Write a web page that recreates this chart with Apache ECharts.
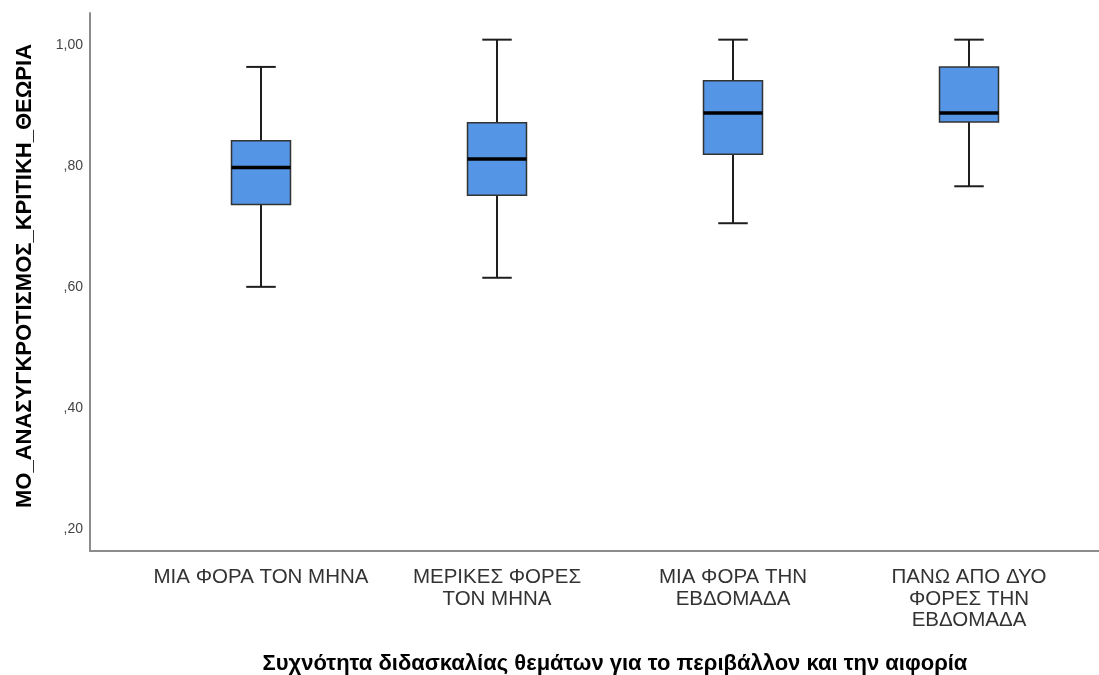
<!DOCTYPE html>
<html>
<head>
<meta charset="utf-8">
<script src="https://cdn.jsdelivr.net/npm/echarts@6/dist/echarts.min.js"></script>
<style>
html,body{margin:0;padding:0;background:#fff;}
#chart{width:1099px;height:675px;}
</style>
</head>
<body>
<div id="chart"></div>
<script>
// Categories (x axis)
const categories = [
  'ΜΙΑ ΦΟΡΑ ΤΟΝ ΜΗΝΑ',
  'ΜΕΡΙΚΕΣ ΦΟΡΕΣ\nΤΟΝ ΜΗΝΑ',
  'ΜΙΑ ΦΟΡΑ ΤΗΝ\nΕΒΔΟΜΑΔΑ',
  'ΠΑΝΩ ΑΠΟ ΔΥΟ\nΦΟΡΕΣ ΤΗΝ\nΕΒΔΟΜΑΔΑ'
];
// Five-number summaries per category
const whiskerLow  = [0.592, 0.607, 0.697, 0.758];
const quartile1   = [0.728, 0.743, 0.811, 0.864];
const medians     = [0.789, 0.803, 0.879, 0.879];
const quartile3   = [0.833, 0.863, 0.932, 0.955];
const whiskerHigh = [0.955, 1.000, 1.000, 1.000];

const yTitle = 'ΜΟ_ΑΝΑΣΥΓΚΡΟΤΙΣΜΟΣ_ΚΡΙΤΙΚΗ_ΘΕΩΡΙΑ';
const xTitle = 'Συχνότητα διδασκαλίας θεμάτων για το περιβάλλον και την αιφορία';

const yMin = 0.156, yMax = 1.044;

const boxData = categories.map((c, i) => [i, whiskerLow[i], quartile1[i], medians[i], quartile3[i], whiskerHigh[i]]);

function renderBox(params, api) {
  const idx = api.value(0);
  const band = api.size([1, 0])[0];
  const bw = band * 0.25;
  const cw = band * 0.125;
  const pLow = api.coord([idx, api.value(1)]);
  const pQ1 = api.coord([idx, api.value(2)]);
  const pMed = api.coord([idx, api.value(3)]);
  const pQ3 = api.coord([idx, api.value(4)]);
  const pHigh = api.coord([idx, api.value(5)]);
  const x = pQ1[0];
  const lineStyle = { stroke: '#1e1e1e', lineWidth: 2 };
  return {
    type: 'group',
    children: [
      { type: 'line', shape: { x1: x, y1: pHigh[1], x2: x, y2: pQ3[1] }, style: lineStyle },
      { type: 'line', shape: { x1: x, y1: pQ1[1], x2: x, y2: pLow[1] }, style: lineStyle },
      { type: 'line', shape: { x1: x - cw / 2, y1: pHigh[1], x2: x + cw / 2, y2: pHigh[1] }, style: lineStyle },
      { type: 'line', shape: { x1: x - cw / 2, y1: pLow[1], x2: x + cw / 2, y2: pLow[1] }, style: lineStyle },
      { type: 'rect', shape: { x: x - bw / 2, y: pQ3[1], width: bw, height: pQ1[1] - pQ3[1] },
        style: { fill: '#5595E5', stroke: '#333', lineWidth: 1.5 } },
      { type: 'line', shape: { x1: x - bw / 2, y1: pMed[1], x2: x + bw / 2, y2: pMed[1] },
        style: { stroke: '#000', lineWidth: 3.5 } }
    ]
  };
}

const chart = echarts.init(document.getElementById('chart'), null, { renderer: 'canvas' });
chart.setOption({
  animation: false,
  backgroundColor: '#fff',
  grid: [
    { left: 90, right: 0, top: 13, bottom: 124, containLabel: false, outerBoundsMode: 'none' },
    { left: 143, right: 12, top: 13, bottom: 124, containLabel: false, outerBoundsMode: 'none' }
  ],
  xAxis: [
    {
      gridIndex: 0, type: 'value', min: 0, max: 1,
      axisLine: { show: true, lineStyle: { color: '#8c8c8c', width: 2 } },
      axisTick: { show: false }, axisLabel: { show: false }, splitLine: { show: false }
    },
    {
      gridIndex: 1, type: 'category', data: categories,
      axisLine: { show: false }, axisTick: { show: false }, splitLine: { show: false },
      axisLabel: {
        interval: 0, margin: 16, fontSize: 20.5, lineHeight: 21.5,
        fontFamily: 'Liberation Sans, Arial, sans-serif', color: '#333'
      },
      name: xTitle, nameLocation: 'middle', nameGap: 102, nameMoveOverlap: false,
      nameTextStyle: { fontSize: 22, fontWeight: 'bold', color: '#000', fontFamily: 'Liberation Sans, Arial, sans-serif' }
    }
  ],
  yAxis: [
    {
      gridIndex: 0, type: 'value', min: yMin, max: yMax, splitNumber: 5,
      axisLine: { show: true, lineStyle: { color: '#8c8c8c', width: 2 } },
      axisTick: { show: false }, splitLine: { show: false },
      axisLabel: {
        showMinLabel: false, showMaxLabel: false, margin: 7,
        fontSize: 14, color: '#444', verticalAlign: 'top', lineHeight: 10,
        fontFamily: 'Liberation Sans, Arial, sans-serif',
        formatter: v => {
          const s = v.toFixed(2).replace('.', ',');
          return s.startsWith('0') ? s.slice(1) : s;
        }
      },
      name: yTitle, nameLocation: 'middle', nameGap: 54, nameRotate: 90, nameMoveOverlap: false,
      nameTextStyle: { fontSize: 22, fontWeight: 'bold', color: '#000', fontFamily: 'Liberation Sans, Arial, sans-serif', padding: [0, 0, 0, 12] }
    },
    {
      gridIndex: 1, type: 'value', min: yMin, max: yMax, show: false
    }
  ],
  series: [
    {
      type: 'custom', xAxisIndex: 1, yAxisIndex: 1,
      renderItem: renderBox,
      encode: { x: 0, y: [1, 2, 3, 4, 5] },
      data: boxData
    }
  ]
});
</script>
</body>
</html>
